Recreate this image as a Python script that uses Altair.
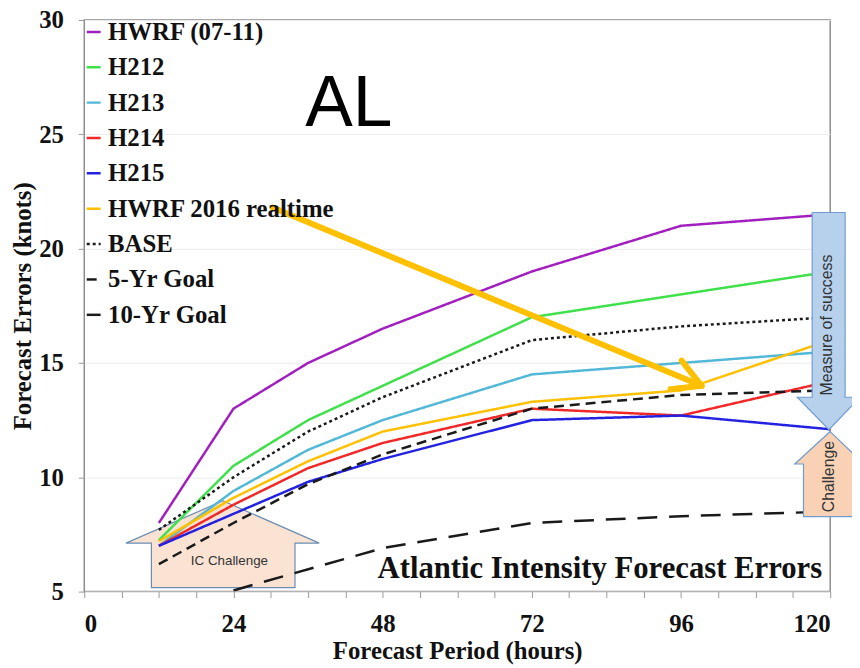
import altair as alt
import pandas as pd

# ---------------- data ----------------
hours = [12, 24, 36, 48, 72, 96, 120]
series = ["HWRF (07-11)", "H212", "H213", "H214", "H215",
          "HWRF 2016 realtime", "BASE", "5-Yr Goal", "10-Yr Goal"]
hwrf_0711 = [8.0, 13.0, 15.0, 16.5, 19.0, 21.0, 21.5]
h212 = [7.25, 10.5, 12.5, 14.0, 17.0, 18.0, 19.0]
h213 = [7.0, 9.4, 11.2, 12.5, 14.5, 15.0, 15.5]
h214 = [7.0, 8.8, 10.4, 11.5, 13.0, 12.7, 14.2]
h215 = [7.0, 8.4, 9.8, 10.8, 12.5, 12.7, 12.1]
hwrf_2016 = [7.2, 9.1, 10.7, 12.0, 13.3, 13.8, 16.0]
base = [7.7, 10.0, 12.0, 13.5, 16.0, 16.6, 17.0]
goal_5yr = [6.2, 8.0, 9.7, 11.0, 13.0, 13.6, 13.8]
goal_10yr_hours = [24, 48, 72, 96, 120]
goal_10yr = [5.05, 6.9, 8.0, 8.3, 8.5]

# styles
colors = ["#a21fbf", "#3fe04a", "#52b8d8", "#f02828", "#2222e0",
          "#ffc000", "#1a1a1a", "#1a1a1a", "#1a1a1a"]
dashes = [[1, 0], [1, 0], [1, 0], [1, 0], [1, 0], [1, 0],
          [3, 3], [10, 6], [20, 12]]
widths = [2.5, 2.5, 2.5, 2.5, 2.5, 2.5, 3, 3, 3]

# annotation shapes (in hours / knots)
ic_h = [22.3, 37.8, 33.9, 33.9, 10.8, 10.8, 6.7, 22.3]
ic_v = [8.97, 7.12, 7.12, 5.17, 5.17, 7.12, 7.12, 8.97]
ms_h = [117.1, 122.4, 122.4, 124.8, 119.8, 114.7, 117.1, 117.1]
ms_v = [21.58, 21.58, 13.5, 13.5, 12.08, 13.5, 13.5, 21.58]
ch_h = [120.0, 125.4, 124.0, 124.0, 115.7, 115.7, 114.3, 120.0]
ch_v = [12.0, 10.58, 10.58, 8.28, 8.28, 10.58, 10.58, 12.0]
arrow_seg = ["shaft", "shaft", "barb1", "barb1", "barb2", "barb2"]
arrow_h = [30.3, 99.3, 96.1, 99.3, 94.3, 99.3]
arrow_v = [21.8, 14.0, 15.1, 14.0, 13.85, 14.0]

texts = ["AL", "Atlantic Intensity Forecast Errors"]

# ---------------- tables ----------------
vals = [hwrf_0711, h212, h213, h214, h215, hwrf_2016, base, goal_5yr]
rows = []
for name, v in zip(series[:-1], vals):
    for h, e in zip(hours, v):
        rows.append({"series": name, "hour": h, "err": e})
for h, e in zip(goal_10yr_hours, goal_10yr):
    rows.append({"series": series[-1], "hour": h, "err": e})
df = pd.DataFrame(rows)


def poly(hs, vs):
    return pd.DataFrame({"hour": hs, "err": vs, "ord": list(range(len(hs)))})


xs = alt.Scale(domain=[0, 120], nice=False, zero=False)
ys = alt.Scale(domain=[5, 30], nice=False, zero=False)

x_axis = alt.Axis(values=list(range(0, 121, 6)),
                  labelExpr="datum.value % 24 === 0 ? datum.label : ''",
                  labelOverlap=False, grid=False, domain=False,
                  tickSize=6, tickColor="#999999", labelPadding=14,
                  title="Forecast Period (hours)", titleY=68,
                  titleBaseline="alphabetic")
y_axis = alt.Axis(values=[5, 10, 15, 20, 25, 30], grid=True,
                  gridColor="#ececec", domain=False, tickSize=6,
                  tickColor="#999999", labelPadding=15,
                  title="Forecast Errors (knots)", titleX=-62, titleY=288.5,
                  titleAngle=270, titleBaseline="middle", titleAlign="center")

X = alt.X("hour:Q", scale=xs, axis=x_axis)
Y = alt.Y("err:Q", scale=ys, axis=y_axis)

leg = alt.Legend(orient="none", legendX=-3, legendY=-0.5, title=None,
                 symbolType="stroke", symbolSize=196, symbolStrokeWidth=3,
                 labelFont="Liberation Serif", labelFontSize=25,
                 labelFontWeight="bold", labelColor="#111111",
                 labelOffset=2, rowPadding=9.7, padding=0, labelLimit=400)

ic_layer = alt.Chart(poly(ic_h, ic_v)).mark_line(
    fill="#fbe3d3", stroke="#6b8db3", strokeWidth=1.2
).encode(x=X, y=Y, order="ord:Q")

lines = alt.Chart(df).mark_line(clip=True).encode(
    x=X, y=Y,
    color=alt.Color("series:N", scale=alt.Scale(domain=series, range=colors),
                    sort=series, legend=leg),
    strokeDash=alt.StrokeDash("series:N",
                              scale=alt.Scale(domain=series, range=dashes),
                              sort=series, legend=leg),
    strokeWidth=alt.StrokeWidth("series:N",
                                scale=alt.Scale(domain=series, range=widths),
                                legend=None),
)

arrow = alt.Chart(pd.DataFrame({"seg": arrow_seg, "hour": arrow_h,
                                "err": arrow_v,
                                "ord": list(range(len(arrow_h)))})).mark_line(
    color="#ffc000", strokeWidth=6, strokeCap="round"
).encode(x=X, y=Y, detail="seg:N", order="ord:Q")

ms_layer = alt.Chart(poly(ms_h, ms_v)).mark_line(
    fill="#b7d1ed", stroke="#6f9bd1", strokeWidth=1.2
).encode(x=X, y=Y, order="ord:Q")

ch_layer = alt.Chart(poly(ch_h, ch_v)).mark_line(
    fill="#f9d2b6", stroke="#6f9bd1", strokeWidth=1.2
).encode(x=X, y=Y, order="ord:Q")

al_text = alt.Chart(pd.DataFrame({"hour": [42.55], "err": [25.38],
                                  "t": [texts[0]]})).mark_text(
    font="Liberation Sans", fontSize=72, color="#000000",
    align="center", baseline="alphabetic"
).encode(x=X, y=Y, text="t:N")

title_text = alt.Chart(pd.DataFrame({"hour": [118.7], "err": [5.6],
                                     "t": [texts[1]]})).mark_text(
    font="Liberation Serif", fontSize=31, fontWeight="bold",
    color="#111111", align="right", baseline="alphabetic"
).encode(x=X, y=Y, text="t:N")

ann_df = pd.DataFrame({"hour": [23.35, 119.5, 119.8],
                       "err": [6.34, 16.66, 10.03],
                       "t": ["IC Challenge", "Measure of success", "Challenge"],
                       "a": [0, 270, 270],
                       "fs": [13.5, 16, 16]})
ann_text = alt.Chart(ann_df).mark_text(
    font="Liberation Sans", color="#333333", align="center",
    baseline="middle"
).encode(x=X, y=Y, text="t:N",
         angle=alt.Angle("a:Q", scale=None),
         size=alt.Size("fs:Q", scale=None, legend=None))

chart = alt.layer(
    ic_layer, lines, arrow, ms_layer, ch_layer, al_text, title_text, ann_text
).properties(
    width=753, height=577,
    padding={"left": 77, "top": 9, "right": 22, "bottom": 74},
    autosize=alt.AutoSizeParams(type="none"),
).configure_view(
    stroke="#8c8c8c", strokeWidth=1.5
).configure_axis(
    labelFont="Liberation Serif", labelFontSize=25, labelFontWeight="bold",
    labelColor="#111111", titleFont="Liberation Serif", titleFontSize=25,
    titleFontWeight="bold", titleColor="#111111"
)

chart.save("out.html", embed_options={"renderer": "svg", "actions": False})
